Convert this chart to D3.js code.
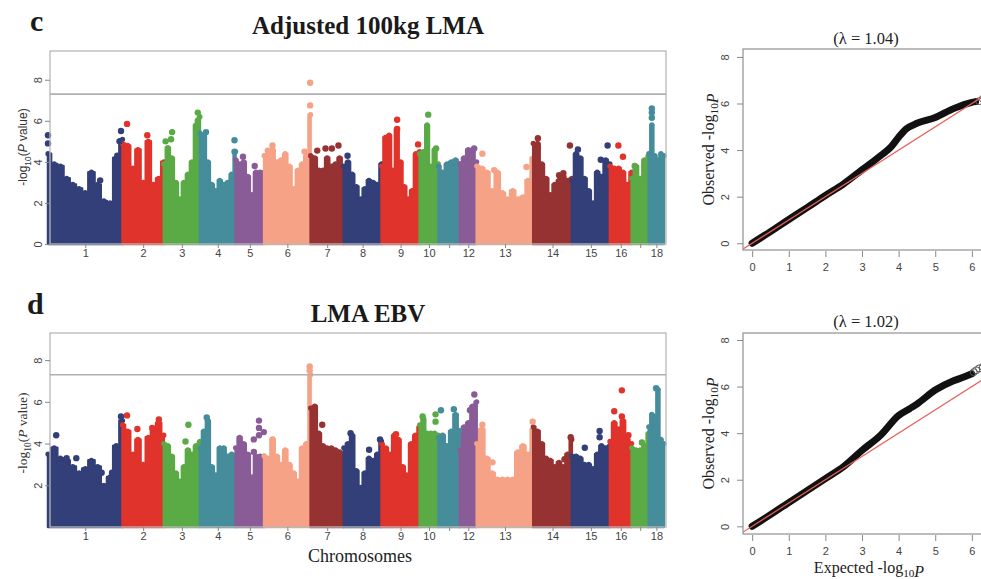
<!DOCTYPE html>
<html>
<head>
<meta charset="utf-8">
<script src="https://cdn.jsdelivr.net/npm/d3@7"></script>
<style>
  body { margin: 0; background: #fff; }
  svg { display: block; }
</style>
</head>
<body>
<svg id="fig" width="981" height="579"></svg>
<script>
// chromosome sizes (Mb) and labels
var chrLen = [274, 152, 133, 131, 105, 171, 122, 139, 140, 69, 79, 62, 208, 142, 140, 80, 63, 56];
var chrLabels = ["1", "2", "3", "4", "5", "6", "7", "8", "9", "10", "", "12", "13", "14", "15", "16", "", "18"];
var chrColors = ["#333f78", "#e0332b", "#5aaa46", "#468d9c", "#8a5c97", "#f5a286", "#973233"];

// upper envelope of -log10(P) along each chromosome, evenly spaced (panel c)
var envC = [
  [4.4, 3.9, 3.8, 3.2, 2.9, 2.7, 2.5, 3.5, 2.9, 2.1, 2.0, 4.2, 5.1],
  [4.9, 4.8, 3.7, 4.6, 3.0, 5.0, 2.9, 3.2, 4.0],
  [3.9, 4.7, 4.2, 3.0, 2.2, 3.0, 3.4, 4.0, 5.8, 6.2],
  [5.4, 5.3, 4.0, 2.9, 2.6, 3.1, 2.9, 3.0, 3.4, 4.5],
  [4.1, 3.9, 4.0, 3.3, 2.4, 3.5, 3.5, 3.5],
  [4.3, 4.4, 4.6, 4.0, 4.1, 4.4, 3.8, 2.7, 3.6, 3.9, 4.3, 6.3],
  [4.3, 4.2, 3.6, 3.6, 4.2, 3.8, 3.9, 4.2, 3.6],
  [3.8, 4.0, 3.4, 2.8, 2.2, 2.7, 3.1, 3.0, 2.9, 3.9],
  [3.8, 5.2, 5.3, 3.6, 5.6, 4.0, 2.8, 2.2, 2.6, 4.4, 4.5],
  [4.4, 4.5, 5.8, 3.8, 4.6, 3.9],
  [3.8, 3.5, 3.9, 4.0, 4.1, 3.9],
  [3.9, 4.2, 4.6, 4.6, 4.0],
  [3.8, 3.7, 3.5, 2.6, 3.5, 2.5, 2.2, 2.6, 2.2, 2.3, 3.1, 4.2],
  [4.9, 4.9, 3.9, 3.2, 2.4, 2.9, 3.1, 3.3, 3.1, 3.2],
  [3.1, 4.4, 4.2, 3.2, 2.6, 2.0, 3.5, 3.3, 4.1, 3.9],
  [3.8, 3.7, 3.7, 3.5, 2.9, 3.5],
  [3.2, 3.8, 3.2, 4.1, 4.3],
  [4.4, 5.8, 4.3, 4.1, 4.4, 4.3]
];
// isolated top SNPs: [chromosome, fraction along chromosome, -log10(P)]
var hitsC = [
  [1, 0.0, 5.3], [1, 0.0, 4.9], [1, 0.70, 3.1], [1, 0.93, 4.3], [1, 0.96, 5.0], [1, 0.98, 5.5],
  [2, 0.11, 5.85], [2, 0.6, 5.3],
  [3, 0.05, 5.0], [3, 0.2, 5.1], [3, 0.23, 5.45], [3, 0.94, 6.4], [3, 0.94, 6.0],
  [4, 0.17, 5.45], [4, 0.97, 5.05], [4, 0.97, 4.5],
  [5, 0.26, 4.25], [5, 0.67, 3.8],
  [6, 0.08, 4.55], [6, 0.18, 4.8], [6, 0.87, 4.5], [6, 0.99, 7.85], [6, 0.99, 6.75],
  [7, 0.2, 4.55], [7, 0.45, 4.65], [7, 0.64, 4.65], [7, 0.84, 4.8],
  [8, 0.1, 4.3],
  [9, 0.41, 6.05], [9, 0.41, 5.6], [9, 0.96, 4.85],
  [10, 0.46, 6.3], [10, 0.88, 4.65],
  [12, 0.85, 4.65],
  [13, 0.1, 4.4], [13, 0.31, 3.6], [13, 0.88, 3.75],
  [14, 0.12, 5.15], [14, 0.12, 4.7], [14, 0.67, 3.35], [14, 0.78, 3.45], [14, 0.95, 4.8],
  [15, 0.16, 4.6], [15, 0.76, 4.1], [15, 0.94, 4.8],
  [16, 0.39, 4.8], [16, 0.6, 4.25],
  [17, 0.18, 3.8],
  [18, 0.2, 6.6], [18, 0.2, 6.4], [18, 0.2, 6.15]
];

// panel d
var envD = [
  [3.5, 3.8, 3.3, 3.2, 2.9, 2.6, 2.8, 3.2, 2.9, 2.0, 2.4, 3.9, 5.1],
  [4.9, 4.6, 3.5, 4.2, 3.0, 4.3, 4.7, 5.0, 4.4],
  [4.0, 3.9, 3.4, 2.6, 2.2, 2.9, 3.7, 3.5, 3.9, 4.1],
  [3.8, 4.6, 5.1, 2.9, 2.5, 3.8, 3.8, 3.4, 3.5, 3.4],
  [3.8, 4.3, 4.0, 3.5, 2.4, 3.4, 3.4, 3.4],
  [3.4, 3.3, 4.2, 3.4, 3.0, 3.7, 3.0, 2.6, 2.2, 3.8, 4.0, 7.3],
  [5.7, 5.8, 4.5, 3.9, 3.8, 3.8, 3.7, 3.6, 3.4],
  [3.8, 4.0, 4.4, 2.7, 1.9, 2.6, 3.3, 3.2, 3.5, 4.1],
  [4.0, 3.8, 3.5, 4.4, 4.2, 2.9, 2.5, 4.0, 4.4, 4.8],
  [4.9, 5.2, 4.5, 4.5, 4.5, 4.4],
  [4.3, 4.4, 3.9, 4.6, 5.4, 4.4],
  [3.7, 4.8, 5.0, 5.8, 6.0],
  [4.0, 4.7, 3.3, 2.6, 2.3, 2.3, 2.3, 2.3, 3.6, 3.9, 3.5, 4.7],
  [4.8, 4.6, 4.0, 3.3, 3.2, 2.9, 3.1, 2.9, 3.5, 4.2],
  [3.4, 3.4, 3.3, 3.0, 3.0, 2.8, 3.5, 3.9, 3.8, 3.9],
  [4.1, 5.0, 4.7, 5.1, 4.2, 4.0],
  [3.8, 3.7, 3.7, 3.9, 4.5],
  [4.8, 5.4, 5.3, 6.6, 4.2, 4.0]
];
var hitsD = [
  [1, 0.11, 4.4], [1, 0.25, 3.3], [1, 0.38, 3.3], [1, 0.72, 2.6], [1, 0.86, 2.6], [1, 0.98, 5.3],
  [2, 0.11, 5.35], [2, 0.36, 4.7], [2, 0.72, 4.75], [2, 0.88, 5.15],
  [3, 0.6, 4.1], [3, 0.68, 4.9],
  [4, 0.19, 5.25],
  [5, 0.64, 4.2], [5, 0.64, 3.6], [5, 0.82, 4.4], [5, 0.82, 4.75], [5, 0.82, 5.1], [5, 0.99, 4.55],
  [6, 0.18, 4.2], [6, 0.98, 7.7], [6, 0.98, 7.5],
  [7, 0.35, 4.9],
  [8, 0.18, 4.5], [8, 0.67, 3.7], [8, 0.96, 4.2],
  [9, 0.38, 4.45],
  [10, 0.16, 5.3], [10, 0.85, 5.4], [10, 0.85, 5.05],
  [11, 0.12, 5.6], [11, 0.72, 5.65], [11, 0.95, 4.6],
  [12, 0.6, 5.6], [12, 0.86, 6.35],
  [13, 0.1, 4.9], [13, 0.28, 3.1], [13, 0.99, 5.05],
  [14, 0.81, 3.25], [14, 0.97, 4.3],
  [15, 0.34, 3.8], [15, 0.73, 4.6], [15, 0.73, 4.3],
  [16, 0.2, 5.55], [16, 0.55, 6.55], [16, 0.55, 5.3], [16, 0.85, 4.4],
  [17, 0.6, 4.05],
  [18, 0.48, 6.65]
];

// QQ plots: expected vs observed -log10(P)
var qqExpC = [0, 0.5, 1, 1.5, 2, 2.5, 3, 3.5, 3.8, 4, 4.2, 4.5, 5, 5.5, 6, 6.1];
var qqObsC = [0, 0.5, 1.02, 1.53, 2.05, 2.55, 3.15, 3.75, 4.15, 4.55, 4.9, 5.15, 5.4, 5.78, 6.05, 6.08];
var qqTailExpC = [6.2, 6.3, 6.4];
var qqTailObsC = [6.1, 6.2, 6.3];
var qqExpD = [0, 0.5, 1, 1.5, 2, 2.5, 3, 3.5, 4, 4.3, 4.5, 5, 5.5, 5.8, 6];
var qqObsD = [0, 0.5, 1.02, 1.53, 2.05, 2.57, 3.26, 3.9, 4.76, 5.05, 5.25, 5.85, 6.25, 6.42, 6.55];
var qqTailExpD = [6.05, 6.12, 6.2, 6.3];
var qqTailObsD = [6.62, 6.7, 6.78, 6.85];

var svg = d3.select("#fig");
var sans = "'Liberation Sans', Arial, sans-serif";
var serif = "'Liberation Serif', 'Times New Roman', serif";

var cum = [0];
chrLen.forEach(function (l, i) { cum.push(cum[i] + l); });
var x = d3.scaleLinear().domain([0, cum[cum.length - 1]]).range([48, 664]);
var mids = chrLen.map(function (l, i) { return cum[i] + l / 2; });

function manhattan(env, hits, top, bottom, yMax, yTicks) {
  var y = d3.scaleLinear().domain([0, yMax]).range([bottom, top]);
  var g = svg.append("g");

  env.forEach(function (vals, i) {
    var pts = vals.map(function (v, j) {
      return [cum[i] + chrLen[i] * j / (vals.length - 1), v];
    });
    var col = chrColors[i % 7];
    var cg = g.append("g");
    cg.append("path")
      .datum(pts)
      .attr("d", d3.area().x(function (d) { return x(d[0]); }).y0(y(0)).y1(function (d) { return y(d[1]); }).curve(d3.curveStep))
      .attr("fill", col)
      .attr("stroke", col)
      .attr("stroke-width", 2.5)
      .attr("stroke-linejoin", "round");
    cg.selectAll(null)
      .data(pts)
      .enter()
      .append("circle")
      .attr("cx", function (d) { return x(d[0]); })
      .attr("cy", function (d) { return y(d[1]); })
      .attr("r", 2.6)
      .attr("fill", col);
  });

  g.selectAll(null)
    .data(hits)
    .enter()
    .append("circle")
    .attr("cx", function (d) { return x(cum[d[0] - 1] + chrLen[d[0] - 1] * d[1]); })
    .attr("cy", function (d) { return y(d[2]); })
    .attr("r", 3.2)
    .attr("fill", function (d) { return chrColors[(d[0] - 1) % 7]; });

  // frame and genome-wide threshold
  g.append("rect")
    .attr("x", 50).attr("y", top)
    .attr("width", 616).attr("height", bottom - top)
    .attr("fill", "none").attr("stroke", "#b8b8b8").attr("stroke-width", 1.3);
  g.append("line")
    .attr("x1", 50).attr("x2", 666)
    .attr("y1", y(7.3)).attr("y2", y(7.3))
    .attr("stroke", "#b0b0b0").attr("stroke-width", 1.6);

  var ya = g.append("g")
    .attr("transform", "translate(50,0)")
    .call(d3.axisLeft(y).tickValues(yTicks).tickSize(5).tickFormat(d3.format("d")));
  ya.select(".domain").remove();
  ya.selectAll("line").attr("stroke", "#888");
  ya.selectAll("text")
    .attr("x", null).attr("dy", null)
    .attr("text-anchor", "middle")
    .attr("transform", "translate(-8,0) rotate(-90)")
    .style("font-family", sans).style("font-size", "11px").attr("fill", "#444");

  var xa = g.append("g")
    .attr("transform", "translate(0," + bottom + ")")
    .call(d3.axisBottom(x).tickValues(mids).tickSize(4).tickFormat(function (d, i) { return chrLabels[i]; }));
  xa.select(".domain").remove();
  xa.selectAll("line").attr("stroke", "#888");
  xa.selectAll("text")
    .attr("y", 5)
    .style("font-family", sans).style("font-size", "11px").attr("fill", "#444");
  return g;
}

function logLabel(sel, pre, mid, post) {
  sel.append("tspan").text(pre);
  sel.append("tspan").attr("dy", 4).style("font-size", "0.7em").text("10");
  sel.append("tspan").attr("dy", -4).text(mid);
  sel.append("tspan").style("font-style", "italic").text("P");
  if (post) sel.append("tspan").text(post);
}

function qq(exp, obs, tailE, tailO, top, bottom, yDom, title, titleY, showXLabel, id) {
  var qx = d3.scaleLinear().domain([-0.25, 6.55]).range([743, 992]);
  var qy = d3.scaleLinear().domain(yDom).range([bottom, top]);
  var g = svg.append("g");
  g.append("clipPath").attr("id", id)
    .append("rect").attr("x", 743).attr("y", top).attr("width", 249).attr("height", bottom - top);
  var inner = g.append("g").attr("clip-path", "url(#" + id + ")");

  var pts = exp.map(function (e, i) { return [e, obs[i]]; });
  inner.append("path")
    .datum(pts)
    .attr("d", d3.line().x(function (d) { return qx(d[0]); }).y(function (d) { return qy(d[1]); }).curve(d3.curveMonotoneX))
    .attr("fill", "none").attr("stroke", "#111").attr("stroke-width", 7)
    .attr("stroke-linecap", "round").attr("stroke-linejoin", "round");
  inner.selectAll(null)
    .data(tailE)
    .enter()
    .append("circle")
    .attr("cx", function (d) { return qx(d); })
    .attr("cy", function (d, i) { return qy(tailO[i]); })
    .attr("r", 3.5)
    .attr("fill", "none").attr("stroke", "#555").attr("stroke-width", 1);
  inner.append("line")
    .attr("x1", qx(-1)).attr("y1", qy(-1))
    .attr("x2", qx(8)).attr("y2", qy(8))
    .attr("stroke", "#e8605a").attr("stroke-width", 1.2);

  g.append("rect")
    .attr("x", 743).attr("y", top).attr("width", 260).attr("height", bottom - top)
    .attr("fill", "none").attr("stroke", "#999").attr("stroke-width", 1.3);

  var ya = g.append("g")
    .attr("transform", "translate(743,0)")
    .call(d3.axisLeft(qy).tickValues([0, 2, 4, 6, 8]).tickSize(6).tickFormat(d3.format("d")));
  ya.select(".domain").remove();
  ya.selectAll("line").attr("stroke", "#888");
  ya.selectAll("text")
    .attr("x", null).attr("dy", null)
    .attr("text-anchor", "middle")
    .attr("transform", "translate(-14,0) rotate(-90)")
    .style("font-family", sans).style("font-size", "11px").attr("fill", "#444");

  var xa = g.append("g")
    .attr("transform", "translate(0," + (bottom + 1) + ")")
    .call(d3.axisBottom(qx).tickValues([0, 1, 2, 3, 4, 5, 6]).tickSize(6).tickFormat(d3.format("d")));
  xa.select(".domain").remove();
  xa.selectAll("line").attr("stroke", "#888");
  xa.selectAll("text")
    .attr("y", 12)
    .style("font-family", sans).style("font-size", "11px").attr("fill", "#444");

  g.append("text")
    .attr("x", 866).attr("y", titleY)
    .attr("text-anchor", "middle")
    .style("font-family", serif).style("font-size", "16.5px").attr("fill", "#222")
    .text(title);

  var yl = g.append("text")
    .attr("transform", "translate(714," + (top + bottom) / 2 + ") rotate(-90)")
    .attr("text-anchor", "middle")
    .style("font-family", serif).style("font-size", "16px").attr("fill", "#222");
  logLabel(yl, "Observed -log", "", "");

  if (showXLabel) {
    var xl = g.append("text")
      .attr("x", 869).attr("y", 573)
      .attr("text-anchor", "middle")
      .style("font-family", serif).style("font-size", "16px").attr("fill", "#222");
    logLabel(xl, "Expected -log", "", "");
  }
}

// panel c
manhattan(envC, hitsC, 51, 244, 9.4, [0, 2, 4, 6, 8]);
qq(qqExpC, qqObsC, qqTailExpC, qqTailObsC, 49, 250, [-0.29, 8.34], "(\u03bb = 1.04)", 44, false, "clipC");

// panel d
manhattan(envD, hitsD, 333, 527, 9.3, [2, 4, 6, 8]);
qq(qqExpD, qqObsD, qqTailExpD, qqTailObsD, 333, 534, [-0.33, 8.3], "(\u03bb = 1.02)", 327, true, "clipD");

// titles and labels
svg.append("text").attr("x", 30).attr("y", 31)
  .style("font-family", serif).style("font-weight", "bold").style("font-size", "30px").attr("fill", "#1a1a1a")
  .text("c");
svg.append("text").attr("x", 27).attr("y", 314)
  .style("font-family", serif).style("font-weight", "bold").style("font-size", "30px").attr("fill", "#1a1a1a")
  .text("d");
svg.append("text").attr("x", 368).attr("y", 34).attr("text-anchor", "middle")
  .style("font-family", serif).style("font-weight", "bold").style("font-size", "25px").attr("fill", "#1a1a1a")
  .text("Adjusted 100kg LMA");
svg.append("text").attr("x", 368).attr("y", 322).attr("text-anchor", "middle")
  .style("font-family", serif).style("font-weight", "bold").style("font-size", "25px").attr("fill", "#1a1a1a")
  .text("LMA EBV");

var ylc = svg.append("text")
  .attr("transform", "translate(27,147) rotate(-90)")
  .attr("text-anchor", "middle")
  .style("font-family", sans).style("font-size", "12px").attr("fill", "#333");
logLabel(ylc, "-log", "(", " value)");

var yld = svg.append("text")
  .attr("transform", "translate(27,433) rotate(-90)")
  .attr("text-anchor", "middle")
  .style("font-family", serif).style("font-size", "13.5px").attr("fill", "#333");
logLabel(yld, "-log", "(", " value)");

svg.append("text").attr("x", 360).attr("y", 562).attr("text-anchor", "middle")
  .style("font-family", serif).style("font-size", "18px").attr("fill", "#222")
  .text("Chromosomes");
</script>
</body>
</html>
